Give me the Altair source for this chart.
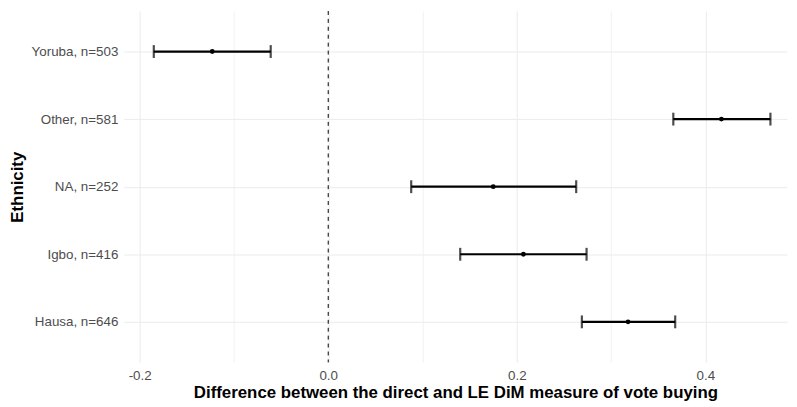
import altair as alt
import pandas as pd

groups = ["Yoruba, n=503", "Other, n=581", "NA, n=252", "Igbo, n=416", "Hausa, n=646"]
estimate = [-0.123, 0.417, 0.175, 0.207, 0.318]
lower = [-0.185, 0.366, 0.088, 0.140, 0.269]
upper = [-0.061, 0.469, 0.263, 0.274, 0.368]

df = pd.DataFrame({"group": groups, "est": estimate, "lo": lower, "hi": upper})
zero_df = pd.DataFrame({"z": [0.0]})

xscale = alt.Scale(domain=[-0.2168, 0.4866], nice=False, zero=False, padding=0)
yscale = alt.Scale(type="point", padding=0.6, domain=groups)

xaxis = alt.Axis(
    values=[-0.2, -0.1, 0.0, 0.1, 0.2, 0.3, 0.4],
    labelExpr="round(datum.value*10) % 2 === 0 ? replace(format(datum.value, '.1f'), '\u2212', '-') : ''",
    title="Difference between the direct and LE DiM measure of vote buying",
    titleFontWeight="bold", titleFontSize=17, titleColor="black", titlePadding=3,
    labelFontSize=13.5, labelColor="#4d4d4d", labelPadding=6,
    domain=False, ticks=False, grid=True,
    gridColor={"condition": {"test": "round(datum.value*10) % 2 !== 0", "value": "#f2f2f2"}, "value": "#ebebeb"},
    gridWidth=1,
)
yaxis = alt.Axis(
    title="Ethnicity", titleFontWeight="bold", titleFontSize=17, titleColor="black",
    titleX=-107, titleY=177.5, titleAngle=270, titleAlign="center", titleBaseline="middle",
    labelFontSize=13.5, labelColor="#4d4d4d", labelPadding=6,
    domain=False, ticks=False, grid=True, gridColor="#ebebeb", gridWidth=1,
)

base = alt.Chart(df)

rules = base.mark_rule(color="black", strokeWidth=2.2).encode(
    x=alt.X("lo:Q", scale=xscale, axis=xaxis),
    x2="hi:Q",
    y=alt.Y("group:N", scale=yscale, axis=yaxis, sort=groups),
)
cap_lo = base.mark_tick(color="black", thickness=2.2, size=13, orient="vertical").encode(
    x=alt.X("lo:Q", scale=xscale),
    y=alt.Y("group:N", scale=yscale, sort=groups),
)
cap_hi = base.mark_tick(color="black", thickness=2.2, size=13, orient="vertical").encode(
    x=alt.X("hi:Q", scale=xscale),
    y=alt.Y("group:N", scale=yscale, sort=groups),
)
points = base.mark_circle(color="black", size=24, opacity=1).encode(
    x=alt.X("est:Q", scale=xscale),
    y=alt.Y("group:N", scale=yscale, sort=groups),
)
zero = alt.Chart(zero_df).mark_rule(color="black", strokeWidth=1, strokeDash=[4, 4]).encode(
    x=alt.X("z:Q", scale=xscale),
)

chart = alt.layer(zero, rules, cap_lo, cap_hi, points).properties(
    width=670, height=355,
    autosize=alt.AutoSizeParams(type="none"),
    padding={"left": 117, "top": 1, "right": 2, "bottom": 40},
).configure(font="Liberation Sans").configure_view(stroke=None)

chart.save("out.html", embed_options={"renderer": "svg", "actions": False})
